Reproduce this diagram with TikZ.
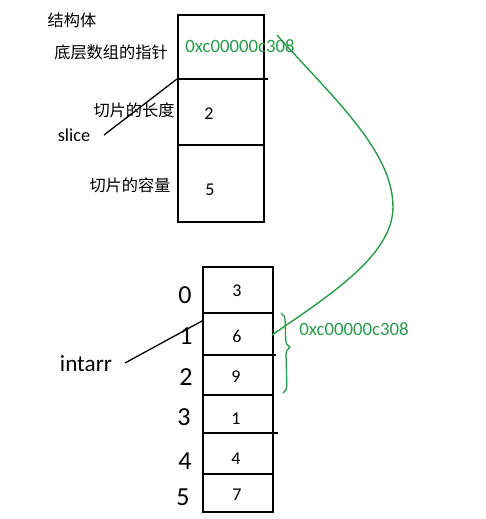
\documentclass[tikz,border=0pt]{standalone}
\usepackage{fontspec}
\setmainfont{Carlito}
\newfontfamily\cjk{Noto Sans CJK SC}
\usetikzlibrary{decorations.pathreplacing}
\definecolor{ptrgreen}{RGB}{40,155,75}
\tikzset{
  box/.style={line width=1.7pt, line cap=rect},
  cnlabel/.style={font=\cjk\fontsize{16.2}{19}\selectfont, inner sep=0pt},
  val/.style={font=\fontsize{18}{20}\selectfont, inner sep=0pt},
  idx/.style={font=\fontsize{26}{28}\selectfont, inner sep=0pt},
  varlabel/.style={font=\fontsize{18.3}{20}\selectfont, inner sep=0pt},
  addr/.style={font=\fontsize{18.8}{20}\selectfont, text=ptrgreen, inner sep=0pt},
  pointer/.style={line width=1.3pt},
  greenline/.style={line width=1.4pt, draw=ptrgreen},
}
\begin{document}
\begin{tikzpicture}[x=1pt,y=-1pt]
\useasboundingbox (0,0) rectangle (486,519);
% struct box
\draw[box] (178,15) rectangle (264,222);
\draw[box] (178,79) -- (267,79);
\draw[box] (178,145) -- (264,145);
\node[cnlabel] (jgt) at (72,20) {结构体};
\node[cnlabel] (ptrl) at (111,52) {底层数组的指针};
\node[cnlabel] (lenl) at (134,110) {切片的长度};
\node[cnlabel] (capl) at (130,185) {切片的容量};
\node[addr] (addr1) at (240,46) {0xc00000c308};
\node[val] (len) at (209,114) {2};
\node[val] (cap) at (210,190) {5};
\node[varlabel] (slice) at (74,135) {slice};
\coordinate (sbox) at (177,79);
\coordinate (sfree) at (104,135);
\draw[pointer] (sfree) -- (sbox);
% array
\draw[box] (203,267) rectangle (273,512);
\draw[box] (203,313) -- (273,313);
\draw[box] (203,355) -- (275,355);
\draw[box] (203,395) -- (273,395);
\draw[box] (203,433) -- (277,433);
\draw[box] (203,474) -- (273,474);
\node[val] (v0) at (237,291) {3};
\node[val] (v1) at (237,336) {6};
\node[val] (v2) at (236,377) {9};
\node[val] (v3) at (236,419) {1};
\node[val] (v4) at (236,459) {4};
\node[val] (v5) at (237,495) {7};
\node[idx] (i0) at (185,295) {0};
\node[idx] (i1) at (186,336) {1};
\node[idx] (i2) at (186,377) {2};
\node[idx] (i3) at (184,417) {3};
\node[idx] (i4) at (185,461) {4};
\node[idx] (i5) at (183,497) {5};
\node[font=\fontsize{23.2}{25}\selectfont, inner sep=0pt] (intarr) at (86,364) {intarr};
\coordinate (afree) at (125,363);
\coordinate (abox) at (202,321);
\draw[pointer] (afree) -- (abox);
% pointer curve
\coordinate (pstart) at (277,35);
\coordinate (pturn) at (393,207);
\coordinate (pend) at (272,335);
\draw[greenline] (pstart) .. controls (330,95) and (393,150) .. (pturn)
  .. controls (393,255) and (330,295) .. (pend);
% brace
\coordinate (bt) at (281,313);
\coordinate (bb) at (283,393);
\draw[greenline, line width=1.3pt, decorate, decoration={brace, amplitude=8pt, aspect=0.43}] (bt) -- (bb);
\node[addr] (addr2) at (354,329) {0xc00000c308};
\end{tikzpicture}
\end{document}
